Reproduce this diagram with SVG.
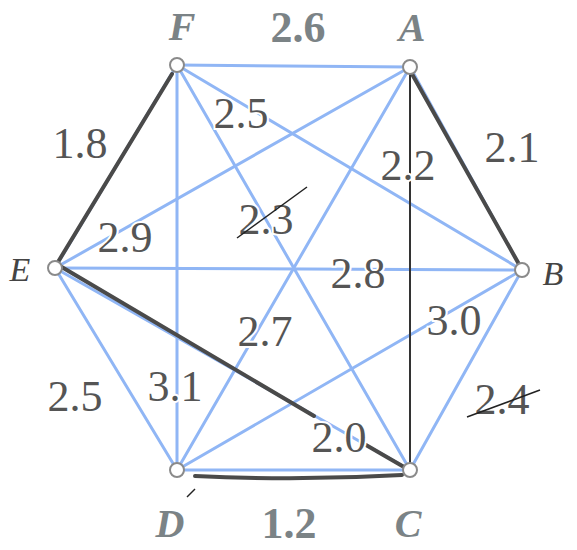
<svg xmlns="http://www.w3.org/2000/svg" width="577" height="550" viewBox="0 0 577 550">
<style>
.e{stroke:#90b6f5;stroke-width:3;fill:none;stroke-linecap:round}
.d{stroke:#4a4a4a;stroke-width:4;fill:none;stroke-linecap:round}
.t{stroke:#333;stroke-width:2;fill:none}
.m{stroke:#222;stroke-width:1.5;fill:none}
.w{font-family:"Liberation Serif","Times New Roman",serif;font-size:44px;fill:#555;text-anchor:middle;paint-order:stroke;stroke:#fff;stroke-width:4}
.b{font-family:"Liberation Serif","Times New Roman",serif;font-size:44px;font-weight:bold;fill:#7b8386;text-anchor:middle}
.n{font-family:"Liberation Serif","Times New Roman",serif;font-style:italic;font-weight:bold;font-size:40px;fill:#7b8386;text-anchor:middle}
.s{font-family:"Liberation Serif","Times New Roman",serif;font-style:italic;font-size:34px;fill:#444;text-anchor:middle}
.c{fill:#fff;stroke:#8a8a8a;stroke-width:2}
</style>
<rect width="577" height="550" fill="#fff"/>
<g id="connectors">
<line class="e" x1="177" y1="65" x2="410" y2="67"/>
<line class="e" x1="177" y1="65" x2="522" y2="270"/>
<line class="e" x1="177" y1="65" x2="410" y2="470"/>
<line class="e" x1="177" y1="65" x2="177" y2="470"/>
<line class="e" x1="177" y1="65" x2="55" y2="268"/>
<line class="e" x1="410" y1="67" x2="522" y2="270"/>
<line class="e" x1="410" y1="67" x2="177" y2="470"/>
<line class="e" x1="410" y1="67" x2="55" y2="268"/>
<line class="e" x1="522" y1="270" x2="410" y2="470"/>
<line class="e" x1="522" y1="270" x2="177" y2="470"/>
<line class="e" x1="522" y1="270" x2="55" y2="268"/>
<line class="e" x1="410" y1="470" x2="177" y2="470"/>
<line class="e" x1="410" y1="470" x2="55" y2="268"/>
<line class="e" x1="177" y1="470" x2="55" y2="268"/>
<line class="d" x1="172" y1="74" x2="58" y2="262"/>
<line class="d" x1="412" y1="74" x2="520" y2="266"/>
<line class="t" x1="410" y1="74" x2="410" y2="464"/>
<line class="d" x1="60" y1="266" x2="314" y2="416"/>
<line class="d" x1="366" y1="445" x2="404" y2="467"/>
<path class="d" d="M195 476 Q300 481 402 475"/>
</g>
<g id="labels">
<text class="b" x="298" y="42">2.6</text>
<text class="w" x="241" y="128">2.5</text>
<text class="w" x="80" y="158">1.8</text>
<text class="w" x="408" y="180">2.2</text>
<text class="w" x="512" y="162">2.1</text>
<text class="w" x="266" y="234">2.3</text>
<text class="w" x="125" y="252">2.9</text>
<text class="w" x="358" y="288">2.8</text>
<text class="w" x="265" y="346">2.7</text>
<text class="w" x="454" y="335">3.0</text>
<text class="w" x="75" y="411">2.5</text>
<text class="w" x="175" y="401">3.1</text>
<text class="w" x="502" y="414">2.4</text>
<text class="w" x="339" y="452">2.0</text>
<text class="b" x="289" y="538">1.2</text>
<line class="m" x1="237" y1="238" x2="307" y2="187"/>
<line class="m" x1="467" y1="417" x2="540" y2="390"/>
<line class="m" x1="187" y1="497" x2="195" y2="489"/>
</g>
<g id="F"><circle class="c" cx="177" cy="65" r="7"/><text class="n" x="182" y="40">F</text></g>
<g id="A"><circle class="c" cx="410" cy="67" r="7"/><text class="n" x="412" y="41">A</text></g>
<g id="B"><circle class="c" cx="522" cy="270" r="7"/><text class="s" x="553" y="285">B</text></g>
<g id="C"><circle class="c" cx="410" cy="470" r="7"/><text class="n" x="408" y="537">C</text></g>
<g id="D"><circle class="c" cx="177" cy="470" r="7"/><text class="n" x="170" y="537">D</text></g>
<g id="E"><circle class="c" cx="55" cy="268" r="7"/><text class="s" x="20" y="281">E</text></g>
</svg>
